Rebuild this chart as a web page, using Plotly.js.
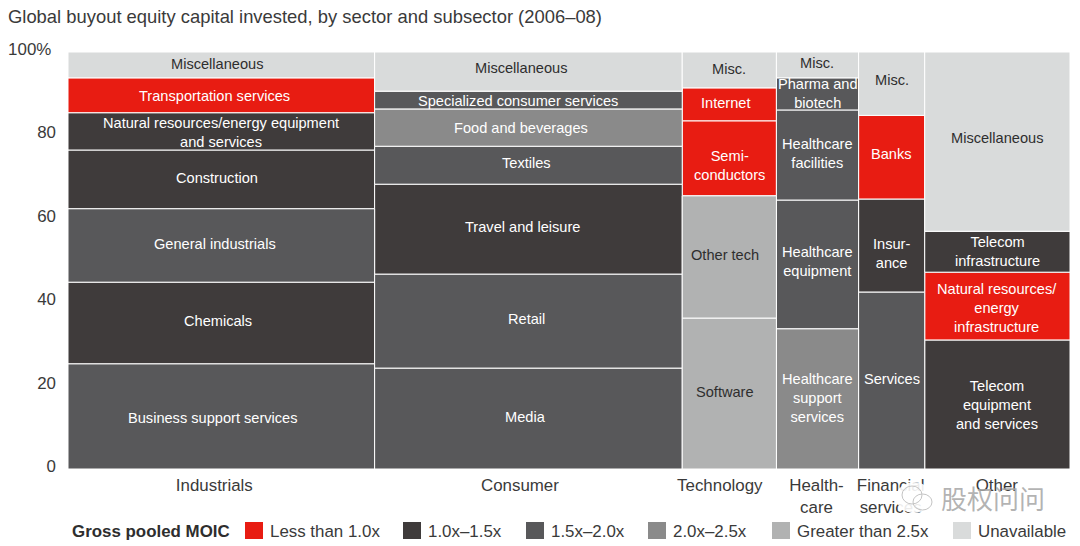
<!DOCTYPE html>
<html>
<head>
<meta charset="utf-8">
<script src="https://cdn.plot.ly/plotly-3.0.1.min.js"></script>
<style>html,body{margin:0;padding:0;background:#fff}#chart{width:1080px;height:546px}</style>
</head>
<body>
<div id="chart"></div>
<script>
// ---------- data (bottom of each column first) ----------
const sectors = ["Industrials", "Consumer", "Technology", "Health-<br>care", "Financial<br>services", "Other"];
const sectorShare = [30.6, 30.7, 9.4, 8.2, 6.6, 14.5];
const sectorTickAt = [14.6, 45.1, 65.05, 74.7, 82.1, 92.7];

const industrialsLabels = ["Business support services", "Chemicals", "General industrials", "Construction", "Natural resources/energy equipment<br>and services", "Transportation services", "Miscellaneous"];
const industrialsValues = [25.2, 19.6, 17.6, 14.1, 8.9, 8.4, 6.2];
const industrialsTiers  = [2, 1, 2, 1, 1, 0, 5];

const consumerLabels = ["Media", "Retail", "Travel and leisure", "Textiles", "Food and beverages", "Specialized consumer services", "Miscellaneous"];
const consumerValues = [24.2, 22.5, 21.6, 9.1, 8.9, 4.3, 9.4];
const consumerTiers  = [2, 2, 1, 2, 3, 2, 5];

const technologyLabels = ["Software", "Other tech", "Semi-<br>conductors", "Internet", "Misc."];
const technologyValues = [36.2, 29.3, 18.0, 7.9, 8.6];
const technologyTiers  = [4, 4, 0, 0, 5];

const healthcareLabels = ["Healthcare<br>support<br>services", "Healthcare<br>equipment", "Healthcare<br>facilities", "Pharma and<br>biotech", "Misc."];
const healthcareValues = [33.6, 30.9, 21.6, 7.7, 6.2];
const healthcareTiers  = [3, 2, 2, 2, 5];

const financialLabels = ["Services", "Insur-<br>ance", "Banks", "Misc."];
const financialValues = [42.4, 22.3, 20.1, 15.2];
const financialTiers  = [2, 1, 0, 5];

const otherLabels = ["Telecom<br>equipment<br>and services", "Natural resources/<br>energy<br>infrastructure", "Telecom<br>infrastructure", "Miscellaneous"];
const otherValues = [30.9, 16.3, 9.8, 43.0];
const otherTiers  = [1, 0, 1, 5];

const tierNames = ["Less than 1.0x", "1.0x–1.5x", "1.5x–2.0x", "2.0x–2.5x", "Greater than 2.5x", "Unavailable"];
const yTickVals = [0, 20, 40, 60, 80, 100];
const yTickText = ["0", "20", "40", "60", "80", "100%&nbsp;"];

// ---------- styling ----------
const tierColors = ["#e81c12", "#3f3b3b", "#58585a", "#8a8a8a", "#b1b2b2", "#d9dbdb"];
const labelColors = ["#ffffff", "#ffffff", "#ffffff", "#ffffff", "#2e2e2e", "#2e2e2e"];
const FONT = '"Liberation Sans", Arial, sans-serif';
const W = 1080, H = 546, L = 68, R = 1070, T = 52, B = 469;
const px = v => (v - L) / (R - L);
const py = v => (B - v) / (B - T);

// label nudges in pixels [dx, dy downward]
const industrialsNudge = [[-8,1.5],[-3,-2],[-6,-1.5],[-4,-1.5],[0,1],[-7,0.5],[-4,-1]];
const consumerNudge = [[-3,-1.5],[-2,-2],[-6,-2],[-2,-2],[-7,0],[-10,1],[-7,-3.5]];
const technologyNudge = [[-4,-1.5],[-4,-2],[0,7.5],[-3,-1.5],[0,-1]];
const healthcareNudge = [[0,-1],[0,-2.5],[0,-2],[0,0],[-1,-2]];
const financialNudge = [[0,-1.5],[0,7.5],[0,-3],[0,-3.5]];
const otherNudge = [[0,0],[0,2],[0,0],[0,-3.5]];

const columns = [
  [industrialsLabels, industrialsValues, industrialsTiers, industrialsNudge],
  [consumerLabels, consumerValues, consumerTiers, consumerNudge],
  [technologyLabels, technologyValues, technologyTiers, technologyNudge],
  [healthcareLabels, healthcareValues, healthcareTiers, healthcareNudge],
  [financialLabels, financialValues, financialTiers, financialNudge],
  [otherLabels, otherValues, otherTiers, otherNudge]
];

const traces = tierNames.map((n, i) => ({
  type: "bar", name: n, x: [], y: [], base: [], width: [],
  marker: { color: tierColors[i], line: { color: "#ffffff", width: 1 } },
  hoverinfo: "skip", showlegend: false
}));
const annotations = [];
let left = 0;
columns.forEach((c, ci) => {
  const [labels, values, tiers, nudge] = c;
  const w = sectorShare[ci], mid = left + w / 2;
  let base = 0;
  values.forEach((v, i) => {
    const t = traces[tiers[i]];
    t.x.push(mid); t.y.push(v); t.base.push(base); t.width.push(w);
    annotations.push({
      x: mid, y: base + v / 2, xref: "x", yref: "y", text: labels[i],
      showarrow: false, xanchor: "center", yanchor: "middle", align: "center",
      xshift: nudge[i][0], yshift: -nudge[i][1],
      font: { family: FONT, size: 14.6, color: labelColors[tiers[i]] }
    });
    base += v;
  });
  left += w;
});

// legend drawn from the tier arrays
const shapes = [];
const swatchAt = [245, 403, 526, 648, 772, 953];
tierNames.forEach((n, i) => {
  shapes.push({ type: "rect", xref: "paper", yref: "paper", layer: "above",
    x0: px(swatchAt[i]), x1: px(swatchAt[i] + 18), y0: py(539), y1: py(522),
    fillcolor: tierColors[i], line: { width: 0 } });
  annotations.push({ xref: "paper", yref: "paper", x: px(swatchAt[i] + 23), y: py(531), text: n,
    showarrow: false, xanchor: "left", yanchor: "middle",
    font: { family: FONT, size: 16.9, color: "#3a3a3a" } });
});
annotations.push({ xref: "paper", yref: "paper", x: px(70), y: py(531), text: "<b>Gross pooled MOIC</b>",
  showarrow: false, xanchor: "left", yanchor: "middle",
  font: { family: FONT, size: 16.9, color: "#2e2e2e" } });

// watermark
shapes.push({ type: "circle", xref: "paper", yref: "paper", layer: "above",
  x0: px(896), x1: px(932), y0: py(513), y1: py(482), fillcolor: "rgba(255,255,255,0.9)", line: { width: 0 } });
shapes.push({ type: "circle", xref: "paper", yref: "paper", layer: "above",
  x0: px(902), x1: px(922), y0: py(504), y1: py(486), fillcolor: "rgba(0,0,0,0)", line: { width: 1, color: "#c4c4c4" } });
shapes.push({ type: "circle", xref: "paper", yref: "paper", layer: "above",
  x0: px(913), x1: px(932), y0: py(510), y1: py(494), fillcolor: "rgba(0,0,0,0)", line: { width: 1, color: "#c4c4c4" } });
annotations.push({ xref: "paper", yref: "paper", x: px(993), y: py(497), text: "股权问问",
  showarrow: false, xanchor: "center", yanchor: "middle",
  font: { family: '"Noto Sans CJK SC", sans-serif', size: 26, color: "rgba(165,165,165,0.85)" } });

const layout = {
  width: W, height: H,
  margin: { l: L, r: W - R, t: T, b: H - B, pad: 0 },
  paper_bgcolor: "#ffffff", plot_bgcolor: "#ffffff",
  barmode: "overlay",
  showlegend: false,
  title: { text: "Global buyout equity capital invested, by sector and subsector (2006–08)",
    x: 8 / W, xref: "container", xanchor: "left", y: 1 - 17 / H, yref: "container", yanchor: "middle",
    font: { family: FONT, size: 18.4, color: "#3a3a3a" } },
  xaxis: { range: [0, 100], showgrid: false, zeroline: false, showline: false, ticks: "",
    tickmode: "array", tickvals: sectorTickAt, ticktext: sectors, ticklabelstandoff: 4,
    tickfont: { family: FONT, size: 16.9, color: "#3a3a3a" } },
  yaxis: { range: [0, 100], showgrid: false, zeroline: false, showline: false, ticks: "",
    tickmode: "array", tickvals: yTickVals, ticktext: yTickText, ticklabelstandoff: 11, ticklabelshift: -3,
    tickfont: { family: FONT, size: 16.9, color: "#3a3a3a" } },
  shapes, annotations
};
Plotly.newPlot("chart", traces, layout, { displayModeBar: false, responsive: false });
</script>
</body>
</html>
